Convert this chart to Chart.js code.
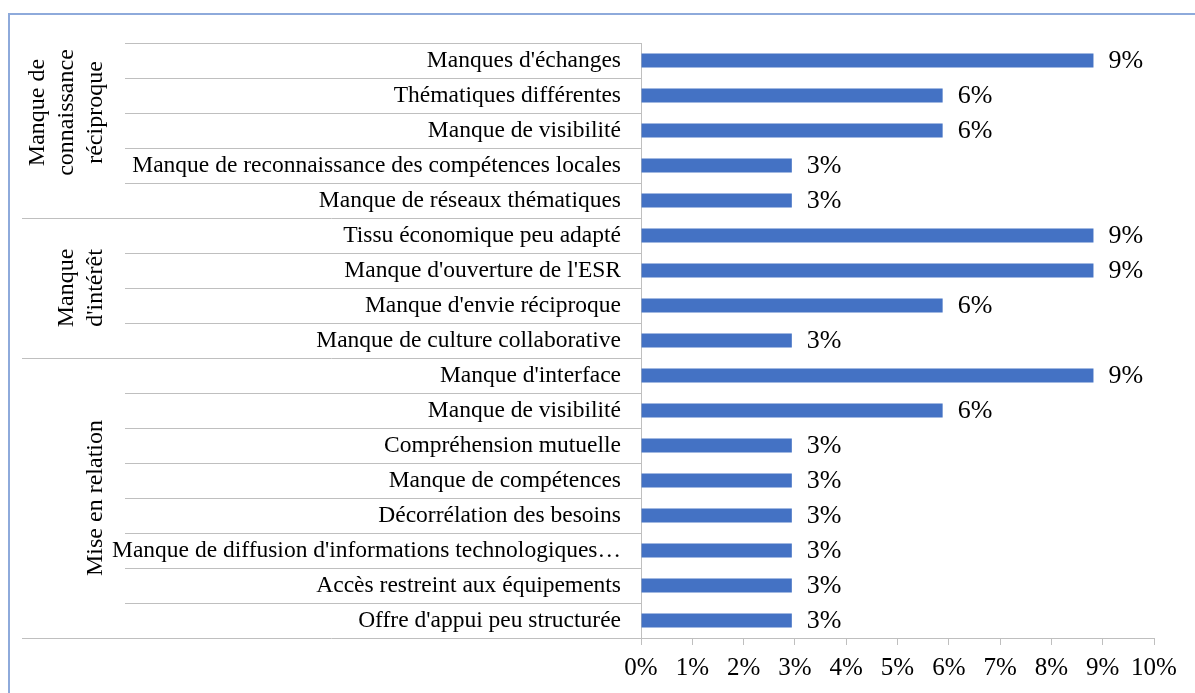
<!DOCTYPE html>
<html>
<head>
<meta charset="utf-8">
<script src="https://cdn.jsdelivr.net/npm/chart.js@4"></script>
<style>
    html, body { margin: 0; padding: 0; background: #fff; }
    #wrap { position: relative; width: 1195px; height: 693px; overflow: hidden; }
    #frame {
        position: absolute; left: 8px; top: 13px; width: 1400px; height: 900px;
        border-left: 2px solid #8eaadb; border-top: 2px solid #8eaadb;
    }
    canvas { position: absolute; left: 0; top: 0; }
</style>
</head>
<body>
<div id="wrap">
    <div id="frame"></div>
    <canvas id="chart" width="1195" height="693"></canvas>
</div>
<script>
const categories = [
    "Manques d'échanges",
    "Thématiques différentes",
    "Manque de visibilité",
    "Manque de reconnaissance des compétences locales",
    "Manque de réseaux thématiques",
    "Tissu économique peu adapté",
    "Manque d'ouverture de l'ESR",
    "Manque d'envie réciproque",
    "Manque de culture collaborative",
    "Manque d'interface",
    "Manque de visibilité",
    "Compréhension mutuelle",
    "Manque de compétences",
    "Décorrélation des besoins",
    "Manque de diffusion d'informations technologiques…",
    "Accès restreint aux équipements",
    "Offre d'appui peu structurée"
];

const values = [8.82, 5.88, 5.88, 2.94, 2.94, 8.82, 8.82, 5.88, 2.94, 8.82, 5.88, 2.94, 2.94, 2.94, 2.94, 2.94, 2.94];
const valueLabels = ['9%', '6%', '6%', '3%', '3%', '9%', '9%', '6%', '3%', '9%', '6%', '3%', '3%', '3%', '3%', '3%', '3%'];

const groupNames = [
    ['Manque de', 'connaissance', 'réciproque'],
    ['Manque', "d'intérêt"],
    ['Mise en relation']
];
const groupSizes = [5, 4, 8];

const xTickLabels = ['0%', '1%', '2%', '3%', '4%', '5%', '6%', '7%', '8%', '9%', '10%'];

const FONT = 'Liberation Serif, Times New Roman, serif';
const LINE_COLOR = '#bfbfbf';
// excel nudges the first group title upward a little
const groupShift = [-18, 0, 0];

// row separators, group labels and value labels
const decorations = {
    id: 'decorations',
    afterDraw(chart) {
        const ctx = chart.ctx;
        const y = chart.scales.y;
        const area = chart.chartArea;
        const rowH = y.getPixelForValue(1) - y.getPixelForValue(0);
        const boundary = i => y.getPixelForValue(i) - rowH / 2;

        const groupEdges = [];
        let acc = 0;
        groupSizes.forEach(n => { acc += n; groupEdges.push(acc); });

        ctx.save();
        ctx.strokeStyle = LINE_COLOR;
        ctx.lineWidth = 1;
        for (let i = 0; i <= categories.length; i++) {
            const py = Math.round(boundary(i)) + 0.5;
            const startX = groupEdges.includes(i) ? 22 : 125;
            ctx.beginPath();
            ctx.moveTo(startX, py);
            ctx.lineTo(area.left, py);
            ctx.stroke();
        }

        // group titles, rotated
        ctx.fillStyle = '#000';
        ctx.font = '24px ' + FONT;
        ctx.textAlign = 'center';
        ctx.textBaseline = 'middle';
        let start = 0;
        groupNames.forEach((lines, g) => {
            const end = start + groupSizes[g];
            const cy = (boundary(start) + boundary(end)) / 2 + groupShift[g];
            lines.forEach((txt, k) => {
                const cx = 96 - (lines.length - 1 - k) * 29;
                ctx.save();
                ctx.translate(cx, cy);
                ctx.rotate(-Math.PI / 2);
                ctx.fillText(txt, 0, 0);
                ctx.restore();
            });
            start = end;
        });

        // value labels
        ctx.font = '26px ' + FONT;
        ctx.textAlign = 'left';
        const meta = chart.getDatasetMeta(0);
        meta.data.forEach((bar, i) => {
            ctx.fillText(valueLabels[i], bar.x + 15, bar.y + 1);
        });
        ctx.restore();
    }
};

const ctx = document.getElementById('chart').getContext('2d');
new Chart(ctx, {
    type: 'bar',
    data: {
        labels: categories,
        datasets: [{
            data: values,
            backgroundColor: '#4472c4',
            borderWidth: 0,
            barPercentage: 0.4,
            categoryPercentage: 1
        }]
    },
    options: {
        indexAxis: 'y',
        responsive: false,
        animation: false,
        layout: { padding: { top: 43, right: 41, left: 0, bottom: 0 } },
        plugins: {
            legend: { display: false },
            tooltip: { enabled: false }
        },
        scales: {
            x: {
                min: 0,
                max: 10,
                ticks: {
                    stepSize: 1,
                    autoSkip: false,
                    maxRotation: 0,
                    padding: 8,
                    color: '#000',
                    font: { family: FONT, size: 25 },
                    callback: (v, i) => xTickLabels[i]
                },
                grid: { drawOnChartArea: false, drawTicks: true, tickLength: 7, color: LINE_COLOR },
                border: { color: LINE_COLOR },
                afterFit: s => { s.height = 55; }
            },
            y: {
                ticks: {
                    autoSkip: false,
                    padding: 12,
                    color: '#000',
                    font: { family: FONT, size: 23.5 }
                },
                grid: { display: false },
                border: { color: LINE_COLOR },
                afterFit: s => { s.width = 641; }
            }
        }
    },
    plugins: [decorations]
});
</script>
</body>
</html>
